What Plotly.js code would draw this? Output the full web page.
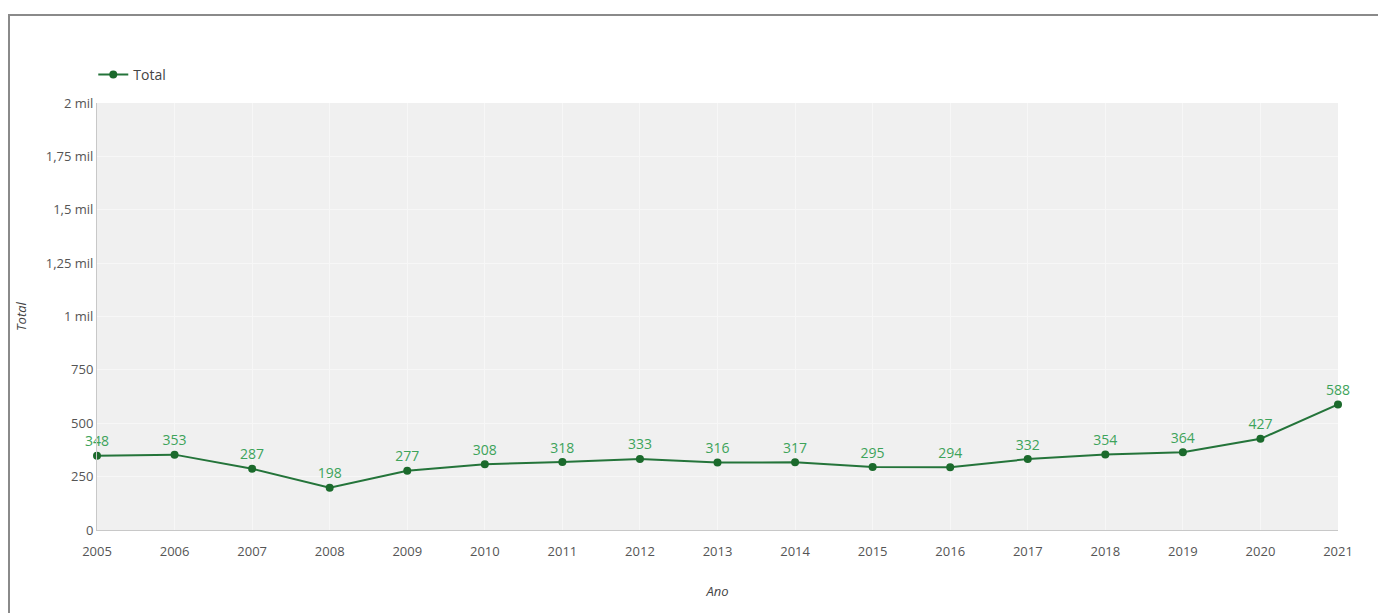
<!DOCTYPE html>
<html><head><meta charset="utf-8">
<script src="https://cdn.plot.ly/plotly-3.0.1.min.js"></script>
<style>
html,body{margin:0;padding:0;background:#fff;overflow:hidden;width:1378px;height:613px;}
#box{position:absolute;left:8px;top:14px;width:1400px;height:640px;border:2px solid #8a8a8a;box-sizing:border-box;}
#chart{position:absolute;left:0;top:0;width:1368px;height:597px;}
</style></head>
<body>
<div id="box"><div id="chart"></div></div>
<script>
const years = ['2005','2006','2007','2008','2009','2010','2011','2012','2013','2014','2015','2016','2017','2018','2019','2020','2021'];
const totals = [348,353,287,198,277,308,318,333,316,317,295,294,332,354,364,427,588];
const yTickVals = [0,250,500,750,1000,1250,1500,1750,2000];
const yTickText = ['0','250','500','750','1 mil','1,25 mil','1,5 mil','1,75 mil','2 mil'];

const font = "'Open Sans', Lato, sans-serif";
Plotly.newPlot('chart', [{
  x: years, y: totals, type: 'scatter', mode: 'lines+markers+text', name: 'Total',
  line: {color: '#24743a', width: 2},
  marker: {color: '#1b6a2c', size: 8},
  text: totals.map(String), textposition: 'top center',
  textfont: {color: '#3da35a', size: 14, family: font},
  cliponaxis: false
}], {
  width: 1368, height: 597,
  margin: {l: 87, r: 40, t: 87, b: 83},
  paper_bgcolor: '#ffffff', plot_bgcolor: '#f0f0f0',
  font: {family: font, color: '#555', size: 13},
  showlegend: true,
  legend: {orientation: 'h', x: -0.003, xanchor: 'left', y: 1.066, yanchor: 'middle', font: {size: 14, color: '#444'}},
  xaxis: {type: 'category', showgrid: true, gridcolor: '#f7f7f7', showline: true, linecolor: '#c8c8c8', linewidth: 1,
          ticks: 'outside', ticklen: 9, tickcolor: 'rgba(0,0,0,0)', tickfont: {size: 13, color: '#555'}, range: [0, 16],
          title: {text: '<i>Ano</i>', font: {size: 13, color: '#444'}, standoff: 28}},
  yaxis: {range: [0, 2000], tickvals: yTickVals, ticktext: yTickText, showgrid: true, gridcolor: '#f7f7f7',
          showline: true, linecolor: '#c8c8c8', linewidth: 1, ticks: '', zeroline: false,
          tickfont: {size: 13, color: '#555'},
          title: {text: '<i>Total</i>', font: {size: 13, color: '#444'}, standoff: 16}}
}, {displayModeBar: false});
</script>
</body></html>
